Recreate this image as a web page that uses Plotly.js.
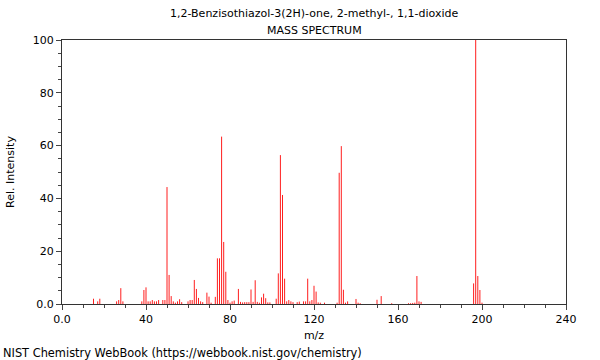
<!DOCTYPE html>
<html>
<head>
<meta charset="utf-8">
<script src="https://cdn.plot.ly/plotly-3.0.1.min.js"></script>
<style>html,body{margin:0;padding:0;background:#fff;}#chart{width:600px;height:360px;}</style>
</head>
<body>
<div id="chart"></div>
<script>
const chartTitle = "1,2-Benzisothiazol-3(2H)-one, 2-methyl-, 1,1-dioxide";
const chartSubtitle = "MASS SPECTRUM";
const xTitle = "m/z";
const yTitle = "Rel. Intensity";
const footer = "NIST Chemistry WebBook (https://webbook.nist.gov/chemistry)";

const mz = [15,17,18,26,27,28,29,38,39,40,41,42,43,44,45,46,48,49,50,51,52,53,54,55,56,57,
  60,61,62,63,64,65,66,67,69,70,71,73,74,75,76,77,78,79,80,81,82,84,85,86,87,88,89,90,91,92,93,94,95,96,97,98,99,
  102,103,104,105,106,107,108,109,110,112,113,115,116,117,118,119,120,121,122,123,125,
  131,132,133,134,135,136,140,141,142,150,152,157,165,166,167,168,169,170,171,196,197,198,199,200];
const intensity = [2,1,2,1,1.5,6,1,1,5.3,6.3,1,1,1.5,1,1,1.5,1.5,1.5,44.3,11,3,1,0.5,1,1.8,0.7,
  1,1.5,1.5,9.1,5.7,2.3,1,0.7,4.3,2.8,0.5,2.7,17.3,17.3,63.4,23.5,12.2,1.5,0.5,1,1.3,5.7,0.8,0.6,0.7,0.7,0.7,5.5,0.8,9,0.8,0.5,2.5,3.9,2.2,0.6,0.6,
  2,11.6,56.4,41.3,9.6,1,1.5,1,0.7,0.7,0.9,1,1,9.6,1,1.5,6.9,4.7,0.6,0.5,0.5,
  0.5,49.7,59.8,5.4,0.5,1,1.9,0.5,0.3,1.6,3,0.3,0.3,0.3,0.4,0.5,10.6,1,0.8,7.8,100,10.6,5.3,0.5];

const xTickVals = [0,40,80,120,160,200,240];
const xTickText = ["0.0","40","80","120","160","200","240"];
const yTickVals = [0,20,40,60,80,100];
const yTickText = ["0.0","20","40","60","80","100"];

const fontFam = "DejaVu Sans, sans-serif";

// stick spectrum: one vertical segment per peak, built from the data arrays
const sx = [], sy = [];
mz.forEach((m, i) => { sx.push(m, m, null); sy.push(0, intensity[i], null); });

const trace = {
  type: "scatter",
  mode: "lines",
  x: sx,
  y: sy,
  line: {color: "rgb(255,30,30)", width: 1},
  connectgaps: false,
  hoverinfo: "skip"
};

const layout = {
  width: 600, height: 360,
  margin: {l: 62, r: 34, t: 40, b: 56, pad: 0},
  paper_bgcolor: "#fff", plot_bgcolor: "#fff",
  showlegend: false,
  font: {family: fontFam, size: 11, color: "#000"},
  xaxis: {
    range: [0, 240],
    tickmode: "array", tickvals: xTickVals, ticktext: xTickText,
    ticks: "outside", ticklen: 5, tickcolor: "#444", tickwidth: 1,
    minor: {dtick: 10, tick0: 0, ticks: "outside", ticklen: 3, tickcolor: "#444", showgrid: false},
    showline: true, mirror: true, linecolor: "#333", linewidth: 1,
    showgrid: false, zeroline: false,
    tickfont: {family: fontFam, size: 11, color: "#000"},
    title: {text: xTitle, font: {family: fontFam, size: 11, color: "#000"}, standoff: 6}
  },
  yaxis: {
    range: [0, 100],
    tickmode: "array", tickvals: yTickVals, ticktext: yTickText,
    ticks: "outside", ticklen: 5, tickcolor: "#444", tickwidth: 1,
    minor: {dtick: 5, tick0: 0, ticks: "outside", ticklen: 3, tickcolor: "#444", showgrid: false},
    showline: true, mirror: true, linecolor: "#333", linewidth: 1,
    showgrid: false, zeroline: false,
    tickfont: {family: fontFam, size: 11, color: "#000"},
    title: {text: yTitle, font: {family: fontFam, size: 11, color: "#000"}, standoff: 15}
  },
  annotations: [
    {text: chartTitle, xref: "paper", yref: "paper", x: 0.5, y: 1, yshift: 27, xanchor: "center", yanchor: "middle", showarrow: false, font: {family: fontFam, size: 11, color: "#000"}},
    {text: chartSubtitle, xref: "paper", yref: "paper", x: 0.5, y: 1, yshift: 10, xanchor: "center", yanchor: "middle", showarrow: false, font: {family: fontFam, size: 11, color: "#000"}},
    {text: footer, xref: "paper", yref: "paper", x: -62/504, xshift: 1, y: 0, yshift: -49, xanchor: "left", yanchor: "middle", showarrow: false, font: {family: fontFam, size: 11.4, color: "#000"}}
  ]
};

Plotly.newPlot("chart", [trace], layout, {displayModeBar: false, staticPlot: true});
</script>
</body>
</html>
